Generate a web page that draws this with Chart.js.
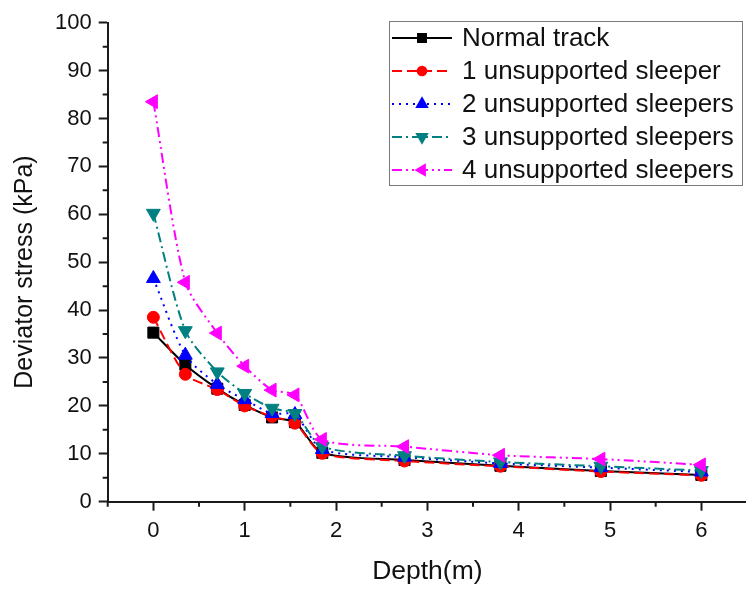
<!DOCTYPE html>
<html>
<head>
<meta charset="utf-8">
<title>Deviator stress vs depth</title>
<script src="https://cdn.jsdelivr.net/npm/chart.js@4.4.1/dist/chart.umd.min.js"></script>
<style>
    html, body { margin: 0; padding: 0; background: #fff; overflow: hidden; }
    .chart-wrap { width: 756px; height: 589px; }
</style>
</head>
<body>
<div class="chart-wrap">
    <canvas id="stressChart" width="756" height="589"></canvas>
</div>
<script>
// depth below sleeper (m)
const depth = [0, 0.35, 0.7, 1.0, 1.3, 1.55, 1.85, 2.75, 3.8, 4.9, 6.0];

// deviator stress (kPa)
const normalTrack = [35.3, 28.6, 23.6, 20.2, 17.6, 16.6, 10.2, 8.7, 7.5, 6.4, 5.6];
const oneSleeper = [38.5, 26.6, 23.4, 20.0, 17.8, 16.4, 10.1, 8.5, 7.4, 6.3, 5.5];
const twoSleepers = [46.6, 30.6, 24.5, 21.3, 18.4, 18.2, 10.9, 9.3, 8.0, 7.1, 6.2];
const threeSleepers = [60.2, 35.7, 27.1, 22.6, 19.5, 18.4, 11.5, 9.6, 8.3, 7.4, 6.5];
const fourSleepers = [83.5, 45.8, 35.2, 28.3, 23.3, 22.3, 13.0, 11.5, 9.7, 8.9, 7.7];

const seriesLabels = [
    'Normal track',
    '1 unsupported sleeper',
    '2 unsupported sleepers',
    '3 unsupported sleepers',
    '4 unsupported sleepers',
];

const xTickValues = [0, 1, 2, 3, 4, 5, 6];
const yTickValues = [0, 10, 20, 30, 40, 50, 60, 70, 80, 90, 100];

const FONT = '"Liberation Sans", Arial, sans-serif';
const AXIS_COLOR = '#1a1a1a';

function toPoints(values) {
    return depth.map((d, i) => ({ x: d, y: values[i] }));
}

function series(label, values, color, dash, style, rotation, radius, order) {
    return {
        label,
        data: toPoints(values),
        borderColor: color,
        backgroundColor: color,
        borderWidth: 2,
        borderDash: dash,
        tension: 0.25,
        pointStyle: style,
        rotation,
        pointRadius: radius,
        pointHoverRadius: radius,
        pointBorderWidth: 1,
        pointBorderColor: color,
        pointBackgroundColor: color,
        legendRadius: radius * 0.72,
        order,
    };
}

// minor ticks, axis titles and the boxed legend
const decorations = {
    id: 'decorations',
    afterDraw(chart) {
        const { ctx, chartArea, scales } = chart;
        const x = scales.x;
        const y = scales.y;

        ctx.save();
        ctx.strokeStyle = AXIS_COLOR;
        ctx.lineWidth = 2;
        ctx.beginPath();
        for (let v = -0.5; v <= 6.5; v += 1) {
            const px = x.getPixelForValue(v);
            ctx.moveTo(px, chartArea.bottom);
            ctx.lineTo(px, chartArea.bottom + 5);
        }
        for (let v = 5; v < 100; v += 10) {
            const py = y.getPixelForValue(v);
            ctx.moveTo(chartArea.left, py);
            ctx.lineTo(chartArea.left - 5, py);
        }
        ctx.stroke();

        ctx.fillStyle = '#111';
        ctx.textAlign = 'center';
        ctx.textBaseline = 'middle';
        ctx.font = '26.5px ' + FONT;
        ctx.fillText('Depth(m)', (chartArea.left + chartArea.right) / 2, 572);
        ctx.font = '25px ' + FONT;
        ctx.translate(25, 272);
        ctx.rotate(-Math.PI / 2);
        ctx.fillText('Deviator stress (kPa)', 0, 0);
        ctx.restore();

        // legend
        const box = { left: 389, top: 21, width: 353, height: 164 };
        ctx.save();
        ctx.strokeStyle = '#7a7a7a';
        ctx.lineWidth = 1;
        ctx.strokeRect(box.left + 0.5, box.top + 0.5, box.width, box.height);

        chart.data.datasets.forEach((ds, i) => {
            const rowY = 38 + i * 33;
            ctx.strokeStyle = ds.borderColor;
            ctx.fillStyle = ds.borderColor;
            ctx.lineWidth = 2;
            ctx.setLineDash(ds.borderDash);
            ctx.beginPath();
            ctx.moveTo(392, rowY);
            ctx.lineTo(452, rowY);
            ctx.stroke();
            ctx.setLineDash([]);
            Chart.helpers.drawPoint(ctx, {
                pointStyle: ds.pointStyle,
                rotation: ds.rotation,
                radius: ds.legendRadius,
                borderWidth: 1,
            }, 422, rowY);

            ctx.fillStyle = '#111';
            ctx.font = '26px ' + FONT;
            ctx.textAlign = 'left';
            ctx.textBaseline = 'middle';
            ctx.fillText(ds.label, 462, rowY + 1);
        });
        ctx.restore();
    },
};

new Chart(document.getElementById('stressChart'), {
    type: 'line',
    data: {
        datasets: [
            series(seriesLabels[0], normalTrack, '#000000', [], 'rect', 0, 7.8, 5),
            series(seriesLabels[1], oneSleeper, '#ff0000', [10, 5], 'circle', 0, 6, 4),
            series(seriesLabels[2], twoSleepers, '#0000ff', [2, 5], 'triangle', 0, 8, 3),
            series(seriesLabels[3], threeSleepers, '#008080', [10, 4, 2, 4], 'triangle', 180, 8, 2),
            series(seriesLabels[4], fourSleepers, '#ff00ff', [10, 4, 2, 4, 2, 4], 'triangle', 270, 8, 1),
        ],
    },
    options: {
        responsive: false,
        animation: false,
        layout: {
            padding: { top: 22.7, right: 4.3, left: 0, bottom: 0 },
        },
        plugins: {
            legend: { display: false },
            tooltip: { enabled: false },
        },
        scales: {
            x: {
                type: 'linear',
                min: -0.5,
                max: 6.5,
                afterBuildTicks(scale) {
                    scale.ticks = xTickValues.map(value => ({ value }));
                },
                afterFit(scale) {
                    scale.height = 87.3;
                },
                ticks: {
                    color: '#111',
                    padding: 7,
                    font: { family: FONT, size: 22 },
                },
                grid: {
                    drawOnChartArea: false,
                    tickLength: 9,
                    tickWidth: 2,
                    tickColor: AXIS_COLOR,
                },
                border: { display: true, color: AXIS_COLOR, width: 2 },
            },
            y: {
                min: 0,
                max: 100,
                afterBuildTicks(scale) {
                    scale.ticks = yTickValues.map(value => ({ value }));
                },
                afterFit(scale) {
                    scale.width = 107.7;
                },
                ticks: {
                    color: '#111',
                    padding: 7,
                    font: { family: FONT, size: 22 },
                },
                grid: {
                    drawOnChartArea: false,
                    tickLength: 9,
                    tickWidth: 2,
                    tickColor: AXIS_COLOR,
                },
                border: { display: true, color: AXIS_COLOR, width: 2 },
            },
        },
    },
    plugins: [decorations],
});
</script>
</body>
</html>
